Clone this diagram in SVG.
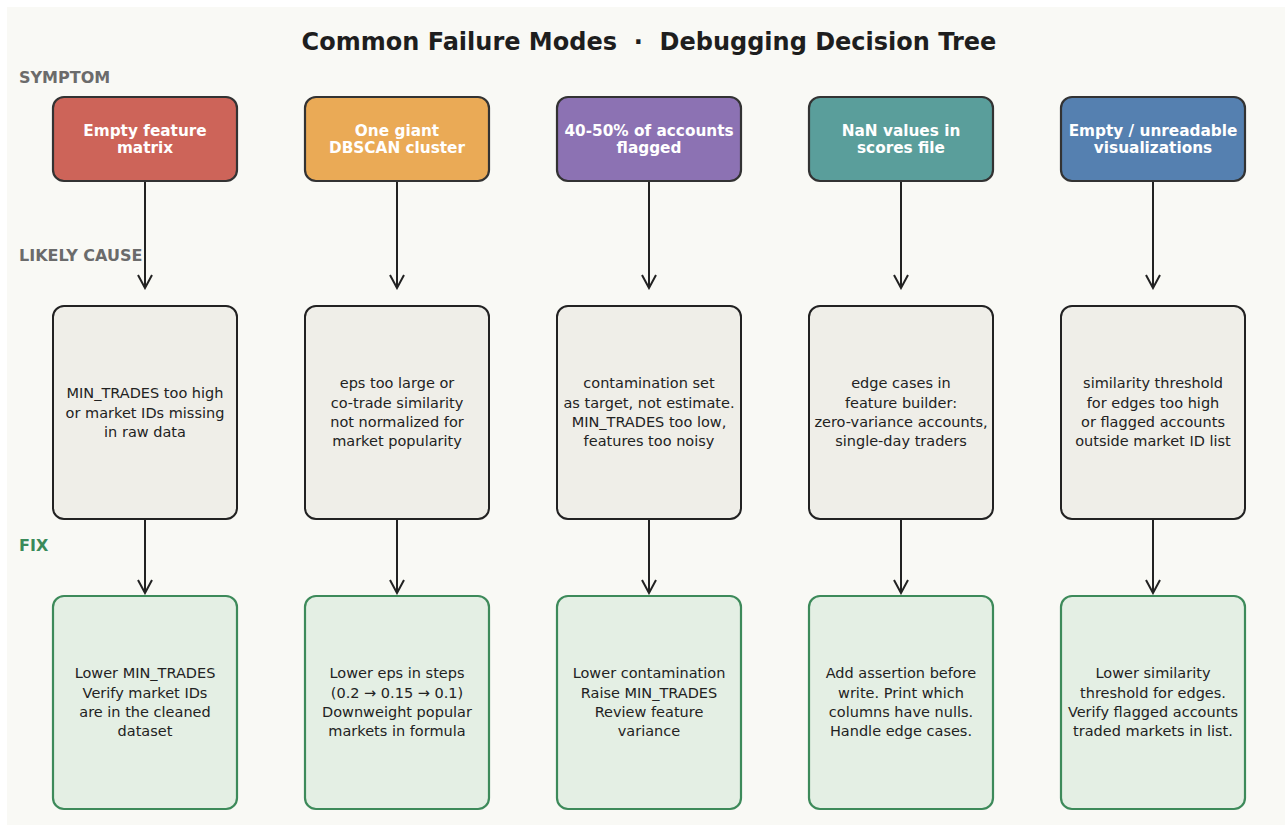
<svg xmlns="http://www.w3.org/2000/svg" width="1287" height="827" viewBox="0 0 1287 827">
  <defs>
    <marker id="head" viewBox="0 0 16 16" refX="14" refY="8" markerWidth="16" markerHeight="16" markerUnits="userSpaceOnUse" orient="auto">
      <path d="M1,1 L14,8 L1,15" fill="none" stroke="#222" stroke-width="2" stroke-linejoin="miter"/>
    </marker>
    <style>
      .title { font-family: "DejaVu Sans", sans-serif; font-weight: bold; font-size: 24px; fill: #1e1e1e; white-space: pre; }
      .stage { font-family: "DejaVu Sans", sans-serif; font-weight: bold; font-size: 16px; fill: #6b6b6b; }
      .stage.fix { fill: #3a8a5a; }
      .sym rect { stroke: #333; stroke-width: 2.2; }
      .sym text { font-family: "DejaVu Sans", sans-serif; font-weight: bold; font-size: 15.3px; fill: #ffffff; text-anchor: middle; }
      .cause rect { fill: #efeee8; stroke: #222; stroke-width: 2; }
      .fixbox rect { fill: #e4efe4; stroke: #3d8a5a; stroke-width: 2.2; }
      .cause text, .fixbox text { font-family: "DejaVu Sans", sans-serif; font-size: 14.5px; fill: #222; text-anchor: middle; }
      .edge { stroke: #222; stroke-width: 2; fill: none; marker-end: url(#head); }
    </style>
  </defs>

  <rect x="0" y="0" width="1287" height="827" fill="#ffffff"/>
  <rect x="7" y="7" width="1278" height="818" fill="#f9f9f5"/>

  <text class="title" x="649" y="50" text-anchor="middle" xml:space="preserve">Common Failure Modes  ·  Debugging Decision Tree</text>

  <text class="stage" x="19" y="83">SYMPTOM</text>
  <text class="stage" x="19" y="261">LIKELY CAUSE</text>
  <text class="stage fix" x="19" y="551">FIX</text>

  <!-- connectors -->
  <g id="connectors">
    <line class="edge" x1="145" y1="181" x2="145" y2="288"/>
    <line class="edge" x1="397" y1="181" x2="397" y2="288"/>
    <line class="edge" x1="649" y1="181" x2="649" y2="288"/>
    <line class="edge" x1="901" y1="181" x2="901" y2="288"/>
    <line class="edge" x1="1153" y1="181" x2="1153" y2="288"/>
    <line class="edge" x1="145" y1="519" x2="145" y2="593"/>
    <line class="edge" x1="397" y1="519" x2="397" y2="593"/>
    <line class="edge" x1="649" y1="519" x2="649" y2="593"/>
    <line class="edge" x1="901" y1="519" x2="901" y2="593"/>
    <line class="edge" x1="1153" y1="519" x2="1153" y2="593"/>
  </g>

  <!-- symptom row -->
  <g id="symptom-empty-matrix" class="sym">
    <rect x="53" y="97" width="184" height="84" rx="11" fill="#cd6459"/>
    <text x="145" y="136">Empty feature</text>
    <text x="145" y="153">matrix</text>
  </g>
  <g id="symptom-giant-cluster" class="sym">
    <rect x="305" y="97" width="184" height="84" rx="11" fill="#eaaa56"/>
    <text x="397" y="136">One giant</text>
    <text x="397" y="153">DBSCAN cluster</text>
  </g>
  <g id="symptom-flagged" class="sym">
    <rect x="557" y="97" width="184" height="84" rx="11" fill="#8c72b3"/>
    <text x="649" y="136">40-50% of accounts</text>
    <text x="649" y="153">flagged</text>
  </g>
  <g id="symptom-nan" class="sym">
    <rect x="809" y="97" width="184" height="84" rx="11" fill="#5a9e9b"/>
    <text x="901" y="136">NaN values in</text>
    <text x="901" y="153">scores file</text>
  </g>
  <g id="symptom-viz" class="sym">
    <rect x="1061" y="97" width="184" height="84" rx="11" fill="#5580b0"/>
    <text x="1153" y="136">Empty / unreadable</text>
    <text x="1153" y="153">visualizations</text>
  </g>

  <!-- likely cause row -->
  <g id="cause-empty-matrix" class="cause">
    <rect x="53" y="306" width="184" height="213" rx="11"/>
    <text x="145" y="398">MIN_TRADES too high</text>
    <text x="145" y="418">or market IDs missing</text>
    <text x="145" y="437">in raw data</text>
  </g>
  <g id="cause-giant-cluster" class="cause">
    <rect x="305" y="306" width="184" height="213" rx="11"/>
    <text x="397" y="388">eps too large or</text>
    <text x="397" y="408">co-trade similarity</text>
    <text x="397" y="427">not normalized for</text>
    <text x="397" y="446">market popularity</text>
  </g>
  <g id="cause-flagged" class="cause">
    <rect x="557" y="306" width="184" height="213" rx="11"/>
    <text x="649" y="388">contamination set</text>
    <text x="649" y="408">as target, not estimate.</text>
    <text x="649" y="427">MIN_TRADES too low,</text>
    <text x="649" y="446">features too noisy</text>
  </g>
  <g id="cause-nan" class="cause">
    <rect x="809" y="306" width="184" height="213" rx="11"/>
    <text x="901" y="388">edge cases in</text>
    <text x="901" y="408">feature builder:</text>
    <text x="901" y="427">zero-variance accounts,</text>
    <text x="901" y="446">single-day traders</text>
  </g>
  <g id="cause-viz" class="cause">
    <rect x="1061" y="306" width="184" height="213" rx="11"/>
    <text x="1153" y="388">similarity threshold</text>
    <text x="1153" y="408">for edges too high</text>
    <text x="1153" y="427">or flagged accounts</text>
    <text x="1153" y="446">outside market ID list</text>
  </g>

  <!-- fix row -->
  <g id="fix-empty-matrix" class="fixbox">
    <rect x="53" y="596" width="184" height="213" rx="11"/>
    <text x="145" y="678">Lower MIN_TRADES</text>
    <text x="145" y="698">Verify market IDs</text>
    <text x="145" y="717">are in the cleaned</text>
    <text x="145" y="736">dataset</text>
  </g>
  <g id="fix-giant-cluster" class="fixbox">
    <rect x="305" y="596" width="184" height="213" rx="11"/>
    <text x="397" y="678">Lower eps in steps</text>
    <text x="397" y="698">(0.2 → 0.15 → 0.1)</text>
    <text x="397" y="717">Downweight popular</text>
    <text x="397" y="736">markets in formula</text>
  </g>
  <g id="fix-flagged" class="fixbox">
    <rect x="557" y="596" width="184" height="213" rx="11"/>
    <text x="649" y="678">Lower contamination</text>
    <text x="649" y="698">Raise MIN_TRADES</text>
    <text x="649" y="717">Review feature</text>
    <text x="649" y="736">variance</text>
  </g>
  <g id="fix-nan" class="fixbox">
    <rect x="809" y="596" width="184" height="213" rx="11"/>
    <text x="901" y="678">Add assertion before</text>
    <text x="901" y="698">write. Print which</text>
    <text x="901" y="717">columns have nulls.</text>
    <text x="901" y="736">Handle edge cases.</text>
  </g>
  <g id="fix-viz" class="fixbox">
    <rect x="1061" y="596" width="184" height="213" rx="11"/>
    <text x="1153" y="678">Lower similarity</text>
    <text x="1153" y="698">threshold for edges.</text>
    <text x="1153" y="717">Verify flagged accounts</text>
    <text x="1153" y="736">traded markets in list.</text>
  </g>
</svg>
